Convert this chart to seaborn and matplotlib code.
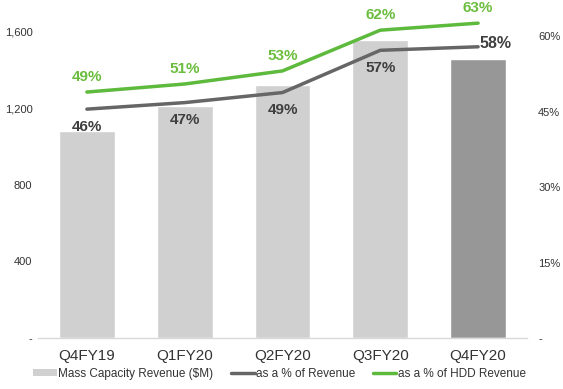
import matplotlib
matplotlib.use("Agg")
import matplotlib.pyplot as plt
import seaborn as sns
import pandas as pd
from matplotlib.patches import Patch
from matplotlib.lines import Line2D

quarters = ["Q4FY19", "Q1FY20", "Q2FY20", "Q3FY20", "Q4FY20"]
mass_capacity_rev = [1082, 1213, 1323, 1558, 1459]
pct_of_revenue = [45.5, 46.8, 48.8, 57.2, 57.9]
pct_of_hdd_revenue = [48.9, 50.5, 53.1, 61.2, 62.6]
pct_rev_labels = ["46%", "47%", "49%", "57%", "58%"]
pct_hdd_labels = ["49%", "51%", "53%", "62%", "63%"]
left_ticks = [0, 400, 800, 1200, 1600]
left_tick_labels = ["-", "400", "800", "1,200", "1,600"]
right_ticks = [0, 15, 30, 45, 60]
right_tick_labels = ["-", "15%", "30%", "45%", "60%"]

sns.set_theme(style="white")
plt.rcParams["font.family"] = ["Liberation Sans", "DejaVu Sans"]

df = pd.DataFrame({"q": quarters, "rev": mass_capacity_rev,
                   "p1": pct_of_revenue, "p2": pct_of_hdd_revenue})

fig = plt.figure(figsize=(5.63, 3.89), dpi=100)
ax = fig.add_axes([38 / 563, 1 - 338 / 389, (527 - 38) / 563, 338 / 389])

bar_colors = ["#d0d0d0"] * 4 + ["#979797"]
sns.barplot(data=df, x="q", y="rev", hue="q", palette=bar_colors, legend=False,
            width=0.57, ax=ax, saturation=1)
ax.set_ylim(0, 1765)
ax.set_xlim(-0.5, 4.5)
ax.set_yticks(left_ticks)
ax.set_yticklabels(left_tick_labels, fontsize=8, color="#333333")
ax.tick_params(axis="both", length=0)
ax.tick_params(axis="x", pad=8, labelsize=11, labelcolor="#333333")
ax.tick_params(axis="y", pad=4)
ax.set_xlabel("")
ax.set_ylabel("")
for s in ["top", "right", "left"]:
    ax.spines[s].set_visible(False)
ax.spines["bottom"].set_color("#d9d9d9")
ax.spines["bottom"].set_linewidth(1)

ax2 = ax.twinx()
sns.lineplot(data=df, x="q", y="p1", color="#666666", linewidth=2.5, ax=ax2)
sns.lineplot(data=df, x="q", y="p2", color="#5dba3c", linewidth=2.5, ax=ax2)
ax2.set_ylim(0, 67.2)
ax2.set_xlim(-0.5, 4.5)
ax2.set_yticks(right_ticks)
ax2.set_yticklabels(right_tick_labels, fontsize=8, color="#333333")
ax2.tick_params(axis="y", length=0, pad=8)
ax2.set_xlabel("")
ax2.set_ylabel("")
for s in ["top", "right", "left", "bottom"]:
    ax2.spines[s].set_visible(False)

for i, (v, lab) in enumerate(zip(pct_of_hdd_revenue, pct_hdd_labels)):
    ax2.annotate(lab, (i, v), xytext=(0, 11), textcoords="offset points",
                 ha="center", va="center", fontsize=11, fontweight="bold",
                 color="#6abd3d")
for i, (v, lab) in enumerate(zip(pct_of_revenue, pct_rev_labels)):
    if i == len(pct_of_revenue) - 1:
        ax2.annotate(lab, (i, v), xytext=(1, 2), textcoords="offset points",
                     ha="left", va="center", fontsize=11.5, fontweight="bold",
                     color="#3f3f3f")
    else:
        ax2.annotate(lab, (i, v), xytext=(0, -12.5), textcoords="offset points",
                     ha="center", va="center", fontsize=11, fontweight="bold",
                     color="#3f3f3f")

handles = [Patch(facecolor="#d0d0d0", edgecolor="none"),
           Line2D([0], [0], color="#666666", lw=2.5),
           Line2D([0], [0], color="#5dba3c", lw=2.5)]
labels = ["Mass Capacity Revenue ($M)", "as a % of Revenue", "as a % of HDD Revenue"]
fig.legend(handles, labels, loc="center", bbox_to_anchor=(279.5 / 563, 1 - 374 / 389),
           ncol=3, frameon=False, fontsize=8.5, handlelength=2.0, handleheight=0.5,
           handletextpad=0.1, columnspacing=1.5, labelcolor="#333333")

fig.savefig("out.png", dpi=100)
